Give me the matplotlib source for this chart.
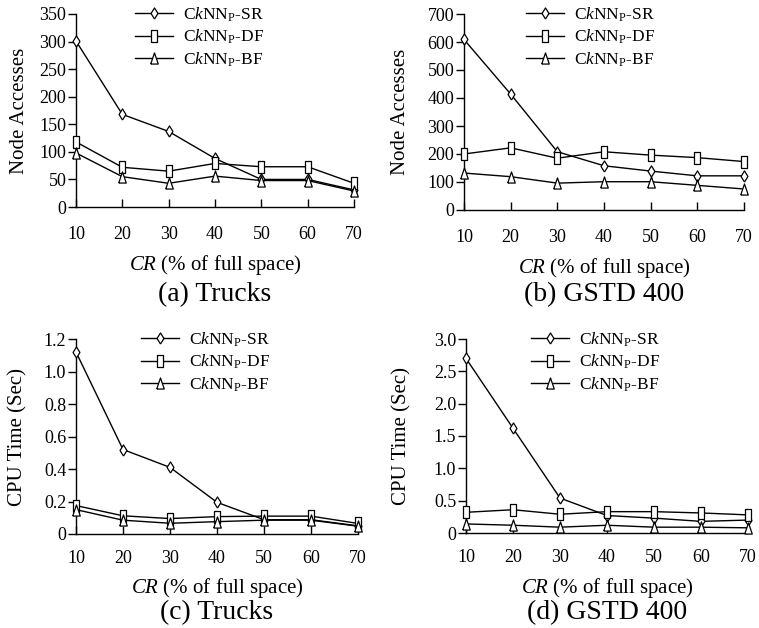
import matplotlib
matplotlib.use("Agg")
import matplotlib.pyplot as plt
from matplotlib.ticker import FixedLocator

plt.rcParams['font.family'] = ['Liberation Serif', 'DejaVu Serif']
plt.rcParams['mathtext.fontset'] = 'custom'
plt.rcParams['mathtext.rm'] = 'Liberation Serif'
plt.rcParams['mathtext.it'] = 'Liberation Serif:italic'

# data
cr = [10, 20, 30, 40, 50, 60, 70]
labels = [r"C$\mathit{k}$NN$_{\mathrm{P}}$-SR",
          r"C$\mathit{k}$NN$_{\mathrm{P}}$-DF",
          r"C$\mathit{k}$NN$_{\mathrm{P}}$-BF"]

trucks_na_sr = [301, 168, 137, 88, 50, 50, 31]
trucks_na_df = [118, 72, 65, 79, 73, 73, 43]
trucks_na_bf = [98, 55, 43, 56, 48, 48, 29]

gstd_na_sr = [609, 414, 208, 158, 139, 122, 122]
gstd_na_df = [200, 222, 185, 208, 196, 187, 173]
gstd_na_bf = [132, 119, 96, 101, 101, 88, 75]

trucks_cpu_sr = [1.12, 0.52, 0.41, 0.195, 0.088, 0.088, 0.05]
trucks_cpu_df = [0.175, 0.112, 0.095, 0.107, 0.11, 0.11, 0.065]
trucks_cpu_bf = [0.15, 0.085, 0.066, 0.076, 0.085, 0.085, 0.048]

gstd_cpu_sr = [2.70, 1.62, 0.54, 0.27, 0.23, 0.18, 0.20]
gstd_cpu_df = [0.32, 0.36, 0.29, 0.33, 0.33, 0.31, 0.28]
gstd_cpu_bf = [0.14, 0.12, 0.09, 0.12, 0.09, 0.09, 0.08]

na_yticks_a = [0, 50, 100, 150, 200, 250, 300, 350]
na_yticks_b = [0, 100, 200, 300, 400, 500, 600, 700]
cpu_yticks_c = [0, 0.2, 0.4, 0.6, 0.8, 1.0, 1.2]
cpu_ytick_labels_c = ["0", "0.2", "0.4", "0.6", "0.8", "1.0", "1.2"]
cpu_yticks_d = [0, 0.5, 1.0, 1.5, 2.0, 2.5, 3.0]
cpu_ytick_labels_d = ["0", "0.5", "1.0", "1.5", "2.0", "2.5", "3.0"]

captions = ["(a) Trucks", "(b) GSTD 400", "(c) Trucks", "(d) GSTD 400"]

# tall open markers like the scanned figure
diamond = [(0, -1), (0.62, 0), (0, 1), (-0.62, 0), (0, -1)]
square = [(-0.62, -1), (0.62, -1), (0.62, 1), (-0.62, 1), (-0.62, -1)]
triangle = [(-0.68, -1), (0.68, -1), (0, 1), (-0.68, -1)]
markers = [diamond, square, triangle]

W, H = 759, 628
fig = plt.figure(figsize=(W / 100, H / 100), dpi=100)

# pixel boxes: left, right, top, bottom
boxes = [(76, 354, 14, 207), (464, 744, 14, 210),
         (76, 358, 339, 534), (466, 748, 339, 533)]


def make_axes(box):
    l, r, t, b = box
    return fig.add_axes([l / W, 1 - b / H, (r - l) / W, (b - t) / H])


panels = [
    (trucks_na_sr, trucks_na_df, trucks_na_bf, na_yticks_a, None, "Node Accesses"),
    (gstd_na_sr, gstd_na_df, gstd_na_bf, na_yticks_b, None, "Node Accesses"),
    (trucks_cpu_sr, trucks_cpu_df, trucks_cpu_bf, cpu_yticks_c, cpu_ytick_labels_c, "CPU Time (Sec)"),
    (gstd_cpu_sr, gstd_cpu_df, gstd_cpu_bf, cpu_yticks_d, cpu_ytick_labels_d, "CPU Time (Sec)"),
]
leg_x = [0.212, 0.221, 0.23, 0.23]
ylab_px = [20, 401, 18, 402]     # centre of y label
xlab_top = [253, 256, 576, 576]  # top of x label
cap_y = [295, 295, 613, 613]
xpad = [13.5, 13.5, 11.5, 11.5]

for i, (sr, df, bf, yt, ytl, ylab) in enumerate(panels):
    l, r, t, b = boxes[i]
    ax = make_axes(boxes[i])
    for vals, mk, lab in zip([sr, df, bf], markers, labels):
        ax.plot(cr, vals, color='black', lw=1.0, marker=mk, markersize=8,
                markerfacecolor='white', markeredgecolor='black',
                markeredgewidth=0.9, label=lab, clip_on=False, zorder=3)
    ax.set_xlim(10, 70)
    ax.set_ylim(yt[0], yt[-1])
    ax.set_xticks(cr)
    ax.yaxis.set_major_locator(FixedLocator(yt))
    if ytl is not None:
        ax.set_yticklabels(ytl)
    for s in ['top', 'right']:
        ax.spines[s].set_visible(False)
    for s in ['left', 'bottom']:
        ax.spines[s].set_linewidth(1.0)
    ax.tick_params(axis='x', direction='in', length=6, width=1.0, pad=xpad[i], labelsize=13)
    ax.tick_params(axis='y', direction='out', length=6, width=1.0, pad=1, labelsize=13)

    ax.set_ylabel(ylab, fontsize=15)
    ax.yaxis.set_label_coords((ylab_px[i] - l) / (r - l), 0.5)
    ax.yaxis.label.set_va('center')
    ax.set_xlabel(r"$\mathit{CR}$ (% of full space)", fontsize=15)
    ax.xaxis.set_label_coords(0.5, -(xlab_top[i] - b) / (b - t))
    ax.xaxis.label.set_va('top')

    ax.legend(loc='upper left', bbox_to_anchor=(leg_x[i], 1.045), frameon=False,
              fontsize=12.5, handlelength=2.2, handletextpad=0.55,
              labelspacing=0.24, borderpad=0, borderaxespad=0)

    fig.text((l + r) / 2 / W, 1 - cap_y[i] / H, captions[i],
             ha='center', va='center', fontsize=20)

fig.savefig("out.png", dpi=100)
